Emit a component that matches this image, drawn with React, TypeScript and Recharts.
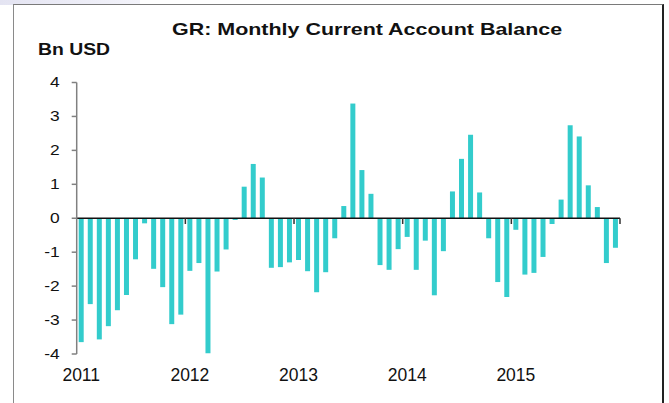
import { BarChart, Bar, XAxis, YAxis, ReferenceLine } from 'recharts';

// monthly current account balance, Bn USD
const years = ['2011', '2012', '2013', '2014', '2015'];
const v2011 = [-3.65, -2.53, -3.57, -3.18, -2.71, -2.26, -1.21, -0.15, -1.49, -2.03, -3.12, -2.84];
const v2012 = [-1.55, -1.32, -3.98, -1.57, -0.92, -0.05, 0.93, 1.6, 1.2, -1.46, -1.44, -1.3];
const v2013 = [-1.23, -1.56, -2.18, -1.59, -0.59, 0.36, 3.38, 1.42, 0.72, -1.38, -1.52, -0.91];
const v2014 = [-0.55, -1.52, -0.66, -2.27, -0.97, 0.79, 1.75, 2.46, 0.76, -0.59, -1.88, -2.32];
const v2015 = [-0.34, -1.66, -1.61, -1.14, -0.17, 0.55, 2.74, 2.41, 0.97, 0.33, -1.32, -0.87];
const yTicks = [-4, -3, -2, -1, 0, 1, 2, 3, 4];

const values = [...v2011, ...v2012, ...v2013, ...v2014, ...v2015];
const data = values.map((v, i) => ({ t: i + 0.5, value: v }));
const labelTicks = years.map((_, i) => i * 12 + 0.5);
const boundaryTicks = [12, 24, 36, 48, 60];

const font = '"Liberation Sans", Arial, sans-serif';

// y labels look a bit wide in the original, stretch them slightly
const YTick = (props: any) => {
  const { x, y, payload } = props;
  return (
    <text
      transform={`translate(${x},${y}) scale(1.2,1)`}
      textAnchor="end"
      dominantBaseline="central"
      fill="#111"
      fontSize={14.5}
      fontFamily={font}
    >
      {payload.value}
    </text>
  );
};

export default function App() {
  return (
    <div style={{ position: 'absolute', left: 0, top: 0, width: 669, height: 403, overflow: 'hidden', background: '#fff', fontFamily: font }}>
      <div style={{ position: 'absolute', left: 0, top: 0, width: 140, height: 5, background: 'linear-gradient(90deg, #e4e4f2, #f3f3fa)' }} />
      <div
        style={{
          position: 'absolute',
          left: 13,
          top: 4,
          width: 648,
          height: 430,
          borderTop: '1.5px solid #7a7a7a',
          borderLeft: '1.5px solid #8a8a8a',
          borderRight: '2px solid #222',
        }}
      />
      <div
        style={{
          position: 'absolute',
          left: 172,
          top: 20,
          fontSize: 17,
          lineHeight: '20px',
          fontWeight: 'bold',
          color: '#111',
          whiteSpace: 'nowrap',
          transform: 'scaleX(1.262)',
          transformOrigin: 'left top',
        }}
      >
        GR: Monthly Current Account Balance
      </div>
      <div
        style={{
          position: 'absolute',
          left: 38,
          top: 40,
          fontSize: 16,
          lineHeight: '19px',
          fontWeight: 'bold',
          color: '#111',
          whiteSpace: 'nowrap',
          transform: 'scaleX(1.21)',
          transformOrigin: 'left top',
        }}
      >
        Bn USD
      </div>
      <div style={{ position: 'absolute', left: 0, top: 0 }}>
        <BarChart width={669} height={403} data={data} margin={{ top: 82.5, right: 49, bottom: 19, left: 0 }}>
          <XAxis
            dataKey="t"
            type="number"
            domain={[0, 60]}
            ticks={labelTicks}
            tickFormatter={(t: number) => years[Math.floor(t / 12)]}
            axisLine={false}
            tickLine={false}
            height={30}
            tickMargin={9}
            tick={{ fill: '#111', fontSize: 17.5, fontFamily: font }}
          />
          <YAxis
            domain={[-4, 4]}
            ticks={yTicks}
            width={76.7}
            tickSize={5}
            tickMargin={12}
            axisLine={{ stroke: '#808080', strokeWidth: 1.5 }}
            tickLine={{ stroke: '#808080', strokeWidth: 1.5 }}
            tick={<YTick />}
          />
          <Bar dataKey="value" fill="#33cccc" barSize={5} isAnimationActive={false} />
          <ReferenceLine y={0} stroke="#111" strokeWidth={1.5} />
          {boundaryTicks.map((b) => (
            <ReferenceLine
              key={b}
              segment={[
                { x: b, y: 0 },
                { x: b, y: -0.17 },
              ]}
              stroke="#333"
              strokeWidth={1.5}
            />
          ))}
        </BarChart>
      </div>
    </div>
  );
}
